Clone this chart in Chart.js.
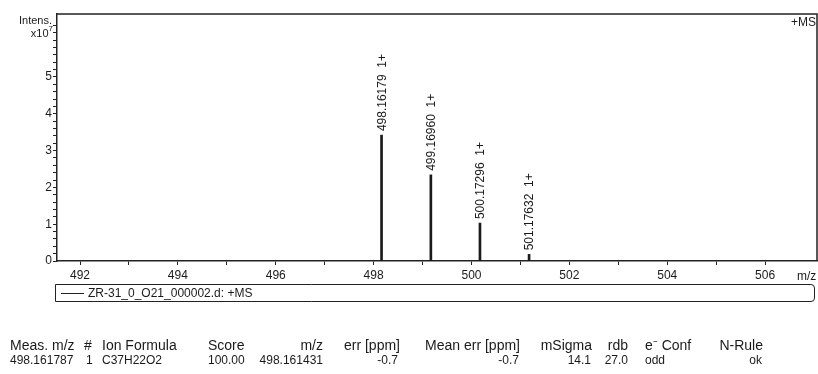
<!DOCTYPE html>
<html>
<head>
<meta charset="utf-8">
<script src="https://cdn.jsdelivr.net/npm/chart.js@4.4.1/dist/chart.umd.min.js"></script>
<style>
  html, body { margin: 0; padding: 0; background: #fff; }
  #wrap { position: relative; width: 818px; height: 374px; overflow: hidden; font-family: "Liberation Sans", Arial, sans-serif; color: #1a1a1a; }
  #ms { position: absolute; left: 0; top: 0; }
  #legend { position: absolute; left: 55px; top: 284px; width: 758px; height: 16px; border: 1.5px solid #222; border-radius: 0 4px 4px 0; }
  #legend .sample { position: absolute; left: 5px; top: 8px; width: 23px; border-top: 1px solid #222; }
  #legend .txt { position: absolute; left: 32px; top: 2px; font-size: 12px; line-height: 12px; }
  .cell { position: absolute; white-space: nowrap; }
  .hd { font-size: 14px; line-height: 14px; top: 338px; }
  .vl { font-size: 12px; line-height: 12px; top: 354px; }
</style>
</head>
<body>
<div id="wrap">
  <canvas id="ms" width="818" height="374"></canvas>
  <div id="legend"><div class="sample"></div><div class="txt" id="legend-text"></div></div>
  <div id="table"></div>
</div>
<script>
// peaks (m/z, intensity x10^7)
const mzValues = [498.16179, 499.16960, 500.17296, 501.17632];
const intensities = [3.42, 2.34, 1.03, 0.18];
const peakLabels = ['498.16179  1+', '499.16960  1+', '500.17296  1+', '501.17632  1+'];

const xTickLabels = [492, 494, 496, 498, 500, 502, 504, 506];
const xMinorTicks = [493, 495, 497, 499, 501, 503, 505];
const yTickLabels = [0, 1, 2, 3, 4, 5];

const legendText = 'ZR-31_0_O21_000002.d: +MS';

const tableHeaders = ['Meas. m/z', '#', 'Ion Formula', 'Score', 'm/z', 'err [ppm]', 'Mean err [ppm]', 'mSigma', 'rdb', 'e\u207B Conf', 'N-Rule'];
const tableValues = ['498.161787', '1', 'C37H22O2', '100.00', '498.161431', '-0.7', '-0.7', '14.1', '27.0', 'odd', 'ok'];

// column placement, left- or right-aligned
const colLayout = [
  { align: 'left', hd: 10, vl: 10 },
  { align: 'left', hd: 84, vl: 86 },
  { align: 'left', hd: 102, vl: 102 },
  { align: 'left', hd: 208, vl: 208 },
  { align: 'right', hd: 323, vl: 323 },
  { align: 'right', hd: 400, vl: 398 },
  { align: 'right', hd: 520, vl: 519 },
  { align: 'right', hd: 592, vl: 591 },
  { align: 'right', hd: 628, vl: 628 },
  { align: 'left', hd: 645, vl: 645 },
  { align: 'right', hd: 763, vl: 762 }
];

const FONT = '"Liberation Sans", Arial, sans-serif';
const INK = '#1a1a1a';

document.getElementById('legend-text').textContent = legendText;

const table = document.getElementById('table');
tableHeaders.forEach((h, i) => {
  const c = colLayout[i];
  [['hd', h], ['vl', tableValues[i]]].forEach(([cls, text]) => {
    const el = document.createElement('div');
    el.className = 'cell ' + cls;
    el.textContent = text;
    if (c.align === 'left') el.style.left = c[cls] + 'px';
    else el.style.right = (818 - c[cls]) + 'px';
    table.appendChild(el);
  });
});

const isMultiple = (v, step) => Math.abs(v / step - Math.round(v / step)) < 1e-6;

const overlay = {
  id: 'overlay',
  afterDatasetsDraw(chart) {
    const { ctx, chartArea: a, scales: { x, y } } = chart;
    ctx.save();
    ctx.strokeStyle = '#222';
    ctx.lineWidth = 1.5;
    ctx.beginPath();
    ctx.moveTo(a.left, a.top);
    ctx.lineTo(a.right, a.top);
    ctx.lineTo(a.right, a.bottom);
    ctx.stroke();

    ctx.fillStyle = INK;
    ctx.font = '12px ' + FONT;
    ctx.textBaseline = 'middle';
    ctx.textAlign = 'left';
    mzValues.forEach((mz, i) => {
      const px = x.getPixelForValue(mz);
      const py = y.getPixelForValue(intensities[i]);
      ctx.save();
      ctx.translate(px + 1, py - 4);
      ctx.rotate(-Math.PI / 2);
      ctx.fillText(peakLabels[i], 0, 0);
      ctx.restore();
    });

    ctx.textBaseline = 'alphabetic';
    ctx.textAlign = 'right';
    ctx.font = '11px ' + FONT;
    ctx.fillText('Intens.', 52, 24);
    ctx.font = '8px ' + FONT;
    const supW = ctx.measureText('7').width;
    ctx.fillText('7', 53, 31);
    ctx.font = '11px ' + FONT;
    ctx.fillText('x10', 53 - supW, 37);

    ctx.font = '12px ' + FONT;
    ctx.fillText('+MS', 816, 26);
    ctx.textAlign = 'left';
    ctx.fillText('m/z', 797, 280);
    ctx.restore();
  }
};

new Chart(document.getElementById('ms'), {
  type: 'bar',
  data: {
    datasets: [{
      data: mzValues.map((mz, i) => ({ x: mz, y: intensities[i] })),
      backgroundColor: INK,
      borderWidth: 0,
      barThickness: 2
    }]
  },
  options: {
    responsive: false,
    animation: false,
    layout: { padding: { top: 14, right: 1, left: 0, bottom: 0 } },
    plugins: { legend: { display: false }, tooltip: { enabled: false } },
    scales: {
      x: {
        type: 'linear',
        min: 491.53,
        max: 507.06,
        offset: false,
        afterBuildTicks: s => {
          s.ticks = [...xTickLabels, ...xMinorTicks].sort((p, q) => p - q).map(v => ({ value: v }));
        },
        afterFit: s => { s.height = 113; },
        grid: { display: true, drawOnChartArea: false, offset: false, tickLength: 4, tickColor: '#222' },
        border: { display: true, color: '#222', width: 1.5 },
        ticks: {
          autoSkip: false,
          maxRotation: 0,
          padding: 3,
          color: INK,
          font: { family: FONT, size: 12 },
          callback: v => xTickLabels.includes(v) ? String(v) : ''
        }
      },
      y: {
        min: 0,
        max: 6.71,
        afterBuildTicks: s => { s.ticks = s.ticks.filter(t => isMultiple(t.value, 0.2)); },
        afterFit: s => { s.width = 57; },
        grid: { display: true, drawOnChartArea: false, tickLength: 4, tickColor: '#222' },
        border: { display: true, color: '#222', width: 1.5 },
        ticks: {
          stepSize: 0.2,
          autoSkip: false,
          padding: 1,
          color: INK,
          font: { family: FONT, size: 12 },
          callback: v => isMultiple(v, 1) && yTickLabels.includes(Math.round(v)) ? String(Math.round(v)) : ''
        }
      }
    }
  },
  plugins: [overlay]
});
</script>
</body>
</html>
